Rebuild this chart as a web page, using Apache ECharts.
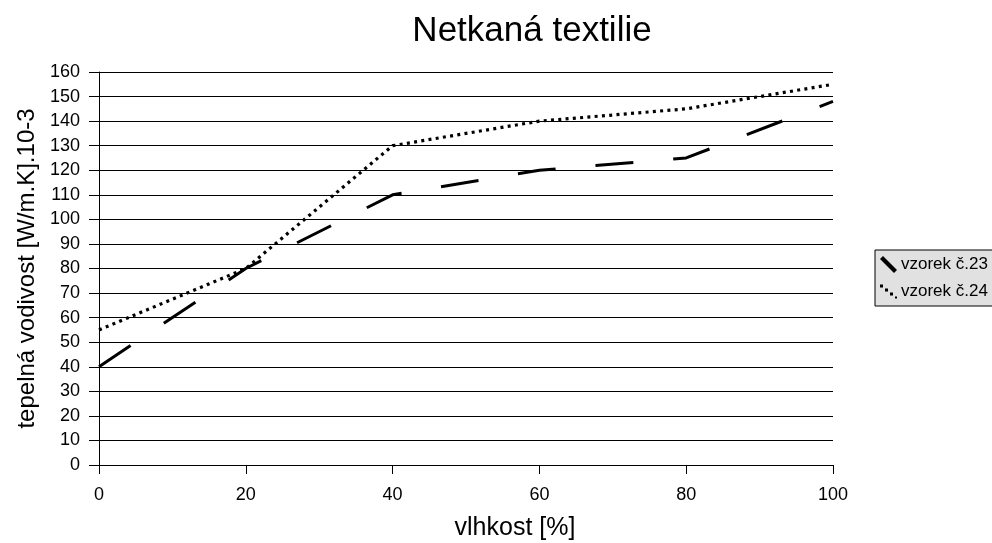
<!DOCTYPE html>
<html><head><meta charset="utf-8">
<script src="https://cdn.jsdelivr.net/npm/echarts@6/dist/echarts.min.js"></script>
<style>html,body{margin:0;padding:0;background:#fff}#c{width:992px;height:543px}</style>
</head><body><div id="c"></div>
<script>
const xValues = [0, 20, 40, 60, 80, 100];
const sample23 = [40, 80, 110, 120, 125, 148];
const sample24 = [55, 80, 130, 140, 145, 155];
const seriesNames = ['vzorek č.23', 'vzorek č.24'];
const titleText = 'Netkaná textilie';
const xName = 'vlhkost [%]';
const yName = 'tepelná vodivost [W/m.K].10-3';

const font = 'Liberation Sans, Arial, sans-serif';
const chart = echarts.init(document.getElementById('c'));
chart.setOption({
  animation: false,
  backgroundColor: '#fff',
  title: { text: titleText, left: 527, top: 9, textAlign: 'center',
    textStyle: { fontFamily: font, fontSize: 35, fontWeight: 'normal', color: '#000' } },
  legend: {
    orient: 'vertical', left: 875, top: 250,
    padding: [6, 40, 6, 5], itemGap: 10, itemWidth: 17, itemHeight: 17,
    backgroundColor: '#e1e1e1', borderColor: '#000', borderWidth: 1, borderRadius: 0,
    textStyle: { fontFamily: font, fontSize: 17, color: '#000', padding: [0, 0, 0, -1] },
    data: [
      { name: seriesNames[0], icon: 'path://M0,3 L3,0 L17,14 L14,17 Z',
        itemStyle: { color: '#000', borderWidth: 0 }, lineStyle: { width: 0 } },
      { name: seriesNames[1], icon: 'path://M0,0h3v3h-3Z M5,4h3v3h-3Z M10,8h3v3h-3Z M15,12h2v2h-2Z',
        itemStyle: { color: '#000', borderWidth: 0 }, lineStyle: { width: 0 } }
    ]
  },
  grid: { left: 99, right: 159, top: 72, bottom: 78, containLabel: false, outerBoundsMode: 'none' },
  xAxis: {
    type: 'value', min: 0, max: 100, interval: 20,
    name: xName, nameLocation: 'middle', nameGap: 51,
    nameTextStyle: { fontFamily: font, fontSize: 25, color: '#000', padding: [0, 0, 0, 98] },
    axisLine: { show: true, lineStyle: { color: '#000', width: 1 } },
    axisTick: { show: true, length: 9, lineStyle: { color: '#000' } },
    axisLabel: { fontFamily: font, fontSize: 18, color: '#000', margin: 21 },
    splitLine: { show: false }
  },
  yAxis: {
    type: 'value', min: 0, max: 160, interval: 10,
    name: yName, nameLocation: 'middle', nameGap: 50, nameRotate: 90,
    nameTextStyle: { fontFamily: font, fontSize: 24, color: '#000' },
    axisLine: { show: true, lineStyle: { color: '#000', width: 1 } },
    axisTick: { show: true, length: 10, lineStyle: { color: '#000' } },
    axisLabel: { fontFamily: font, fontSize: 18, color: '#000', margin: 19 },
    splitLine: { show: true, lineStyle: { color: '#000', width: 1 } }
  },
  series: [
    { name: seriesNames[0], type: 'line', showSymbol: false, symbol: 'none',
      data: xValues.map((x, i) => [x, sample23[i]]),
      lineStyle: { color: '#000', width: 3, type: [38, 40], cap: 'butt' },
      itemStyle: { color: '#000' } },
    { name: seriesNames[1], type: 'line', showSymbol: false, symbol: 'none',
      data: xValues.map((x, i) => [x, sample24[i]]),
      lineStyle: { color: '#000', width: 3.2, type: [3, 4.3], cap: 'butt' },
      itemStyle: { color: '#000' } }
  ]
});
</script></body></html>
